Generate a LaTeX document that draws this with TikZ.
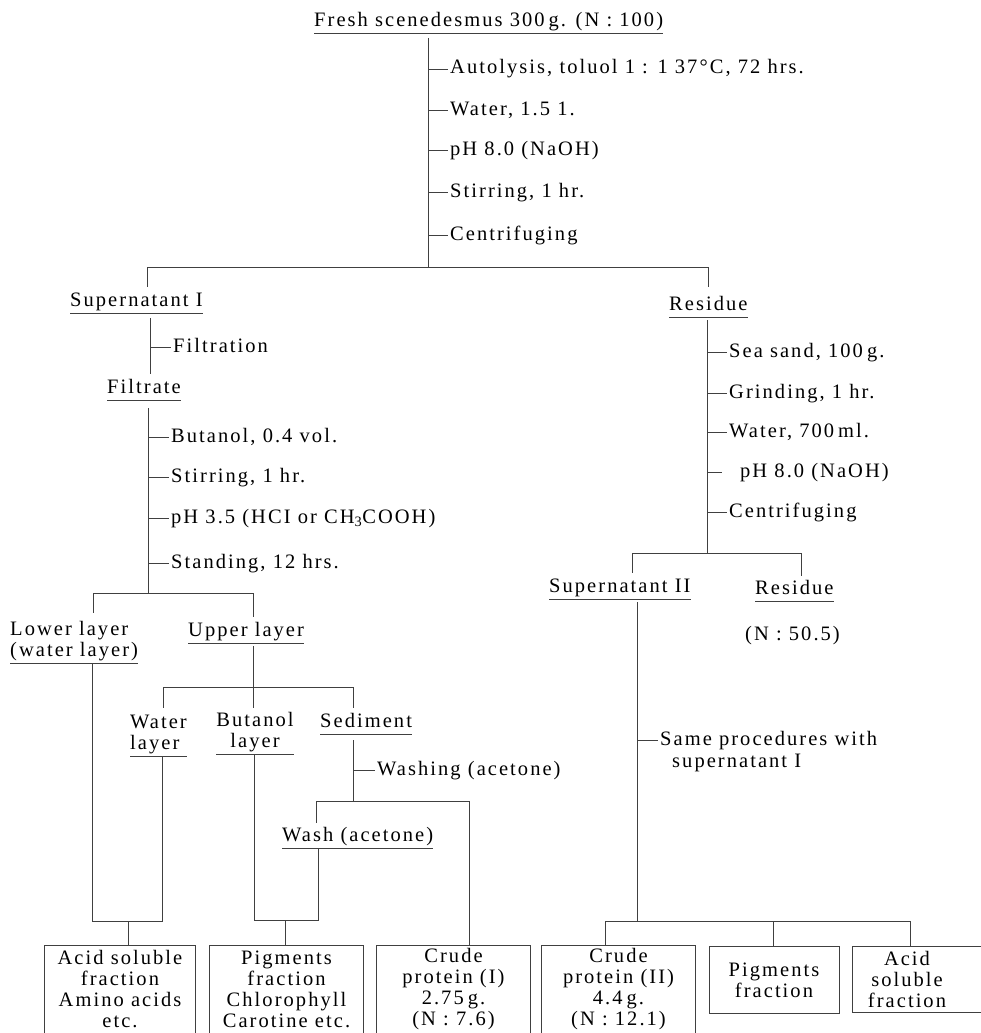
\documentclass[tikz,border=0pt]{standalone}
\usepackage{fontspec}
\setmainfont{Liberation Serif}
\newfontfamily\df{Liberation Serif}[LetterSpace=10]
\newcommand\dfont{\df\fontsize{20.5}{21}\selectfont}
\newcommand\gs{\hspace{4pt}}
\usetikzlibrary{calc}
\tikzset{
 ln/.style={draw=black!75, line width=0.85pt},
 lbl/.style={font=\dfont, inner sep=0pt, anchor=base west},
 ul/.style={font=\dfont, inner xsep=0pt, inner ysep=1.5pt, text depth=4.5pt,
   append after command={(\tikzlastnode.south west) edge[ln] (\tikzlastnode.south east)}},
 obox/.style={font=\dfont, align=center, inner sep=0pt, minimum height=88pt},
 cbox/.style={font=\dfont, align=center, inner sep=0pt, draw=black!75, line width=0.85pt},
}
\newcommand\dashfrom[2]{\draw[ln] ($(#2.base west -| #1)+(0,-5)$) -- ($(#2.base west)+(-2,-5)$);}
\begin{document}
\begin{tikzpicture}[x=1pt,y=-1pt]
\useasboundingbox (0,0) rectangle (981,1033);

% ---- top
\node[ul, anchor=south west] (title) at (314,33) {Fresh scenedesmus 300\gs g. (N : 100)};
\coordinate (v0t) at (428,38);
\coordinate (v0b) at (428,267);
\draw[ln] (v0t) -- (v0b);
\node[lbl] (s1) at (450,74) {Autolysis, toluol 1 : 1 37°C, 72 hrs.};
\node[lbl] (s2) at (450,115) {Water, 1.5 1.};
\node[lbl] (s3) at (450,155) {pH 8.0 (NaOH)};
\node[lbl] (s4) at (450,197) {Stirring, 1 hr.};
\node[lbl] (s5) at (450,240) {Centrifuging};
\foreach \n in {s1,s2,s3,s4,s5} {\dashfrom{v0t}{\n}}
\coordinate (hL) at (147,267);
\coordinate (hR) at (708,267);
\draw[ln] (hL) -- (hR);
\draw[ln] (hL) -- ++(0,20);
\draw[ln] (hR) -- ++(0,20);

% ---- left branch
\node[ul, anchor=south west] (sup1) at (70,313) {Supernatant I};
\coordinate (vL1) at (150,318);
\draw[ln] (vL1) -- ++(0,56);
\node[lbl] (s6) at (173,352) {Filtration};
\dashfrom{vL1}{s6}
\node[ul, anchor=south west] (filt) at (107,400) {Filtrate};
\coordinate (vL2) at (148,408);
\coordinate (hB) at (148,593);
\draw[ln] (vL2) -- (hB);
\node[lbl] (s7) at (171,442) {Butanol, 0.4 vol.};
\node[lbl] (s8) at (171,482) {Stirring, 1 hr.};
\node[lbl] (s9) at (171,523) {pH 3.5 (HCI or CH\textsubscript{3}COOH)};
\node[lbl] (s10) at (171,568) {Standing, 12 hrs.};
\foreach \n in {s7,s8,s9,s10} {\dashfrom{vL2}{\n}}
\coordinate (hLL) at (93,593);
\coordinate (hLR) at (253,593);
\draw[ln] (hLL) -- (hLR);
\draw[ln] (hLL) -- ++(0,20);
\draw[ln] (hLR) -- ++(0,24);
\node[ul, anchor=south west, align=left] (low) at (10,663) {Lower layer\\(water layer)};
\node[ul, anchor=south west] (up) at (188,643) {Upper layer};
\coordinate (vU) at (253,646);
\coordinate (hU) at (253,687);
\draw[ln] (vU) -- (hU);
\coordinate (hU1) at (163,687);
\coordinate (hU3) at (353,687);
\draw[ln] (hU1) -- (hU3);
\draw[ln] (hU1) -- ++(0,21);
\draw[ln] (hU) -- ++(0,21);
\draw[ln] (hU3) -- ++(0,21);
\node[ul, anchor=south west, align=left] (wl) at (130,756) {Water\\layer};
\node[ul, anchor=south, align=center] (bl) at (255,754) {Butanol\\layer};
\node[ul, anchor=south west] (sed) at (320,734) {Sediment};
\coordinate (vS) at (353,740);
\coordinate (hS) at (353,801);
\draw[ln] (vS) -- (hS);
\node[lbl] (s11) at (377,775) {Washing (acetone)};
\dashfrom{vS}{s11}
\coordinate (hS1) at (316,801);
\coordinate (hS2) at (469,801);
\draw[ln] (hS1) -- (hS2);
\draw[ln] (hS1) -- ++(0,22);
\node[ul, anchor=south west] (wash) at (282,848) {Wash (acetone)};

% ---- bottom boxes
\node[obox, minimum width=150pt, anchor=north] (b1) at (120,945) {Acid soluble\\fraction\\Amino acids\\etc.};
\node[obox, minimum width=153pt, anchor=north] (b2) at (286.5,945) {Pigments\\fraction\\Chlorophyll\\Carotine etc.};
\node[obox, minimum width=153pt, anchor=north] (b3) at (453.5,945) {Crude\\protein (I)\\2.75\gs g.\\(N : 7.6)};
\node[obox, minimum width=153pt, anchor=north] (b4) at (618.5,945) {Crude\\protein (II)\\4.4\gs g.\\(N : 12.1)};
\node[cbox, minimum width=130pt, minimum height=67pt, anchor=north] (b5) at (774,946) {Pigments\\fraction};
\node[obox, minimum width=108pt, minimum height=66pt, anchor=north] (b6) at (907,946) {Acid\\soluble\\fraction};
\foreach \b in {b1,b2,b3,b4} {\draw[ln] (\b.south west) -- (\b.north west) -- (\b.north east) -- (\b.south east);}
\coordinate (edge) at (981,946);
\draw[ln] (edge) -- (b6.north west) -- (b6.south west) -- (edge |- b6.south);

% ---- left joins to boxes
\coordinate (a1) at (92,921);
\coordinate (a2) at (162,921);
\coordinate (a3) at (128,921);
\draw[ln] (a1 |- low.south) -- (a1) -- (a2) -- (a2 |- wl.south);
\draw[ln] (a3) -- (a3 |- b1.north);
\coordinate (c1) at (254,920);
\coordinate (c2) at (318,920);
\coordinate (c3) at (285,920);
\draw[ln] (c1 |- bl.south) -- (c1) -- (c2) -- (c2 |- wash.south);
\draw[ln] (c3) -- (c3 |- b2.north);
\draw[ln] (hS2) -- (hS2 |- b3.north);

% ---- right branch
\node[ul, anchor=south west] (res) at (669,317) {Residue};
\coordinate (vR) at (707,320);
\coordinate (hRB) at (707,553);
\draw[ln] (vR) -- (hRB);
\node[lbl] (s12) at (729,357) {Sea sand, 100\gs g.};
\node[lbl] (s13) at (729,398) {Grinding, 1 hr.};
\node[lbl] (s14) at (729,437) {Water, 700\gs ml.};
\node[lbl] (s15) at (740,477) {pH 8.0 (NaOH)};
\node[lbl] (s16) at (729,517) {Centrifuging};
\foreach \n in {s12,s13,s14,s16} {\dashfrom{vR}{\n}}
\draw[ln] ($(s15.base west -| vR)+(0,-5)$) -- ($(s15.base west)+(-18,-5)$);
\coordinate (hR1) at (632,553);
\coordinate (hR2) at (801,553);
\draw[ln] (hR1) -- (hR2);
\draw[ln] (hR1) -- ++(0,20);
\draw[ln] (hR2) -- ++(0,23);
\node[ul, anchor=south west] (sup2) at (549,599) {Supernatant II};
\node[ul, anchor=south west] (res2) at (755,601) {Residue};
\node[lbl] (n50) at (745,640) {(N : 50.5)};
\coordinate (d0) at (637,602);
\coordinate (d1) at (637,921);
\draw[ln] (d0) -- (d1);
\node[lbl] (same1) at (660,745) {Same procedures with};
\node[lbl] (same2) at (672,767) {supernatant I};
\dashfrom{d0}{same1}
\coordinate (e1) at (605,921);
\coordinate (e2) at (773,921);
\coordinate (e3) at (910,921);
\draw[ln] (e1) -- (e3);
\draw[ln] (e1) -- (e1 |- b4.north);
\draw[ln] (e2) -- (e2 |- b5.north);
\draw[ln] (e3) -- (e3 |- b6.north);
\end{tikzpicture}
\end{document}
